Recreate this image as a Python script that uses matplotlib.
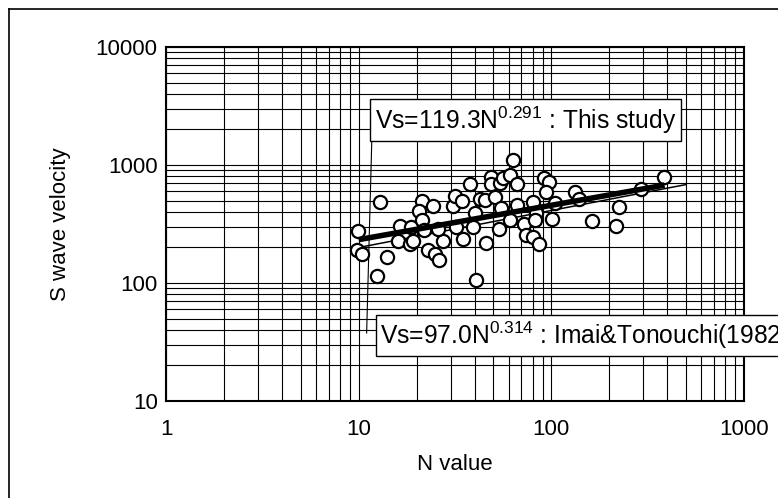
# -*- coding: utf-8 -*-
import numpy as np
import matplotlib
matplotlib.use('Agg')
import matplotlib.pyplot as plt
from matplotlib.lines import Line2D

plt.rcParams['font.family'] = ['Liberation Sans', 'DejaVu Sans']
plt.rcParams['mathtext.fontset'] = 'custom'
plt.rcParams['mathtext.rm'] = 'Liberation Sans'
plt.rcParams['mathtext.default'] = 'rm'

# measured points (N value, S wave velocity)
n_value = [12.9, 9.94, 9.82, 10.4, 14.1, 12.4, 16.4, 16.0, 18.4, 19.2,
           18.6, 21.4, 24.2, 20.6, 21.2, 22.9, 24.8, 26.2, 27.4, 25.8,
           21.8, 30.9, 31.5, 34.2, 37.8, 40.1, 42.5, 45.1, 48.9, 48.9,
           50.9, 54.0, 56.3, 61.1, 55.0, 63.3, 66.2, 66.2, 60.9, 31.9,
           39.4, 53.5, 34.8, 46.0, 71.9, 74.3, 80.4, 86.5, 40.5, 80.4,
           83.7, 82.0, 91.3, 97.5, 93.5, 104, 101, 132, 139, 163,
           224, 216, 293, 384]
vs = [489, 277, 190, 176, 167, 115, 304, 227, 213, 227,
      300, 498, 449, 410, 342, 190, 176, 157, 229, 285,
      281, 445, 546, 491, 690, 394, 512, 505, 787, 690,
      538, 703, 769, 830, 430, 1101, 684, 454, 345, 296,
      296, 288, 238, 217, 319, 255, 244, 215, 105, 489,
      390, 342, 776, 713, 587, 476, 349, 585, 515, 337,
      438, 306, 624, 796]

# power fits Vs = a * N^b
study_a, study_b = 119.3, 0.291
study_range = (10, 387)
imai_a, imai_b = 97.0, 0.314
imai_range = (10, 500)

study_label = r'Vs=119.3N$^{0.291}$ : This study'
imai_label = r'Vs=97.0N$^{0.314}$ : Imai&Tonouchi(1982)'

# leader line of the labels (N, Vs)
leader_top = (11.7, 1630)
leader_bottom = (11.0, 37.7)

fig = plt.figure(figsize=(7.78, 4.98), dpi=100)
ax = fig.add_axes([166 / 778, 97 / 498, 578 / 778, 354 / 498])

ax.set_xscale('log')
ax.set_yscale('log')
ax.set_xlim(1, 1000)
ax.set_ylim(10, 10000)

ax.grid(True, which='both', color='black', linewidth=0.8)
ax.set_axisbelow(True)
ax.tick_params(which='both', length=0, labelsize=16)
ax.tick_params(axis='y', pad=6)
ax.tick_params(axis='x', pad=13)
ax.xaxis.set_major_formatter(matplotlib.ticker.FuncFormatter(lambda v, p: '%d' % v))
ax.yaxis.set_major_formatter(matplotlib.ticker.FuncFormatter(lambda v, p: '%d' % v))
for s in ax.spines.values():
    s.set_linewidth(1.5)

n1 = np.logspace(np.log10(imai_range[0]), np.log10(imai_range[1]), 50)
ax.plot(n1, imai_a * n1 ** imai_b, color='black', linewidth=1.1, zorder=3)

ax.plot(n_value, vs, linestyle='none', marker='o', markersize=9.5,
        markerfacecolor='white', markeredgecolor='black', markeredgewidth=1.6, zorder=4)

n2 = np.logspace(np.log10(study_range[0]), np.log10(study_range[1]), 50)
ax.plot(n2, study_a * n2 ** study_b, color='black', linewidth=4, zorder=5,
        solid_capstyle='butt')

ax.plot([leader_top[0], leader_bottom[0]], [leader_top[1], leader_bottom[1]],
        color='black', linewidth=0.8, zorder=5)

box = dict(boxstyle='square,pad=0.2', facecolor='white', edgecolor='black', linewidth=1)
ax.text(0.362, 0.794, study_label, transform=ax.transAxes, fontsize=17.7,
        ha='left', va='center', bbox=box, zorder=6)
ax.text(0.371, 0.186, imai_label, transform=ax.transAxes, fontsize=17.7,
        ha='left', va='center', bbox=box, zorder=6, clip_on=False)

ax.set_xlabel('N value', fontsize=16, labelpad=10)
ax.set_ylabel('S wave velocity', fontsize=16, labelpad=18)

# outer frame
fig.add_artist(Line2D([9 / 778, 9 / 778], [0, 1 - 9 / 498], color='black', linewidth=1.2))
fig.add_artist(Line2D([9 / 778, 1], [1 - 9 / 498, 1 - 9 / 498], color='black', linewidth=1.2))

fig.savefig('out.png', dpi=100)
